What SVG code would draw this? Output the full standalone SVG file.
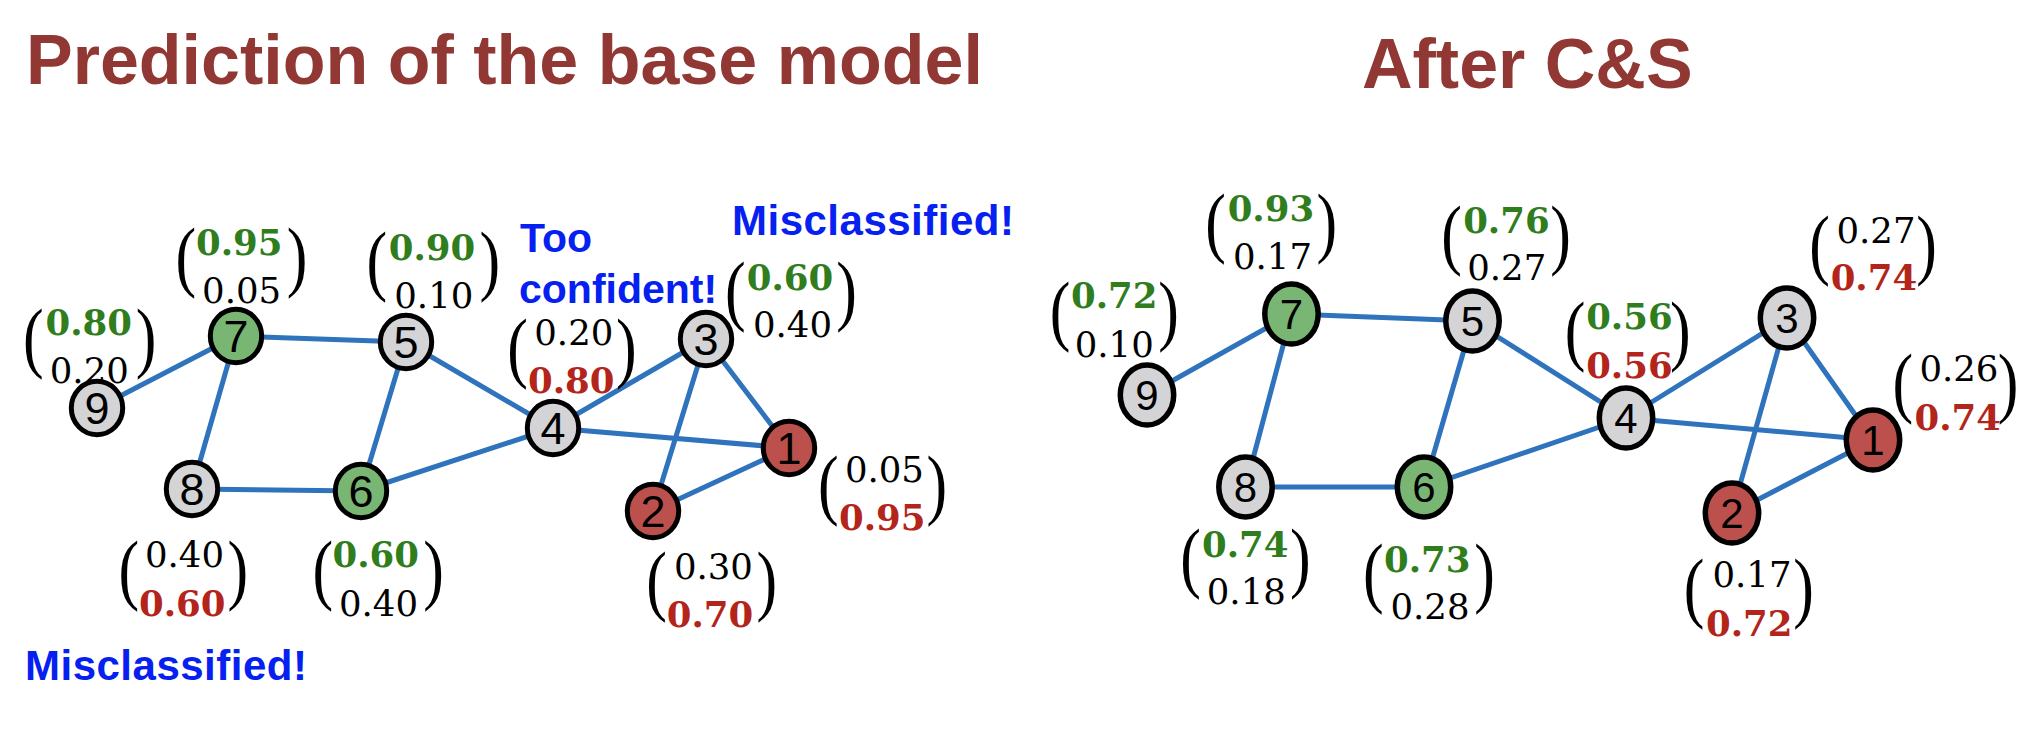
<svg xmlns="http://www.w3.org/2000/svg" width="2044" height="754" viewBox="0 0 2044 754">
<style>
.title{font-family:"Liberation Sans",Arial,sans-serif;font-weight:bold;font-size:70px;fill:#913835}
.note{font-family:"Liberation Sans",Arial,sans-serif;font-weight:bold;font-size:41px;fill:#0520f0}
.mis{font-size:42px;letter-spacing:0.5px}
.edge{stroke:#2f73bd;stroke-width:5;fill:none;stroke-linecap:round}
.nd{stroke:#000;stroke-width:5}
.ndr{stroke:#000;stroke-width:5.5}
.g{fill:#7ab673}.r{fill:#bb504d}.k{fill:#d4d4d7}
.dl{font-family:"Liberation Sans",Arial,sans-serif;font-size:45px;fill:#000;text-anchor:middle}
.dr{font-family:"Liberation Sans",Arial,sans-serif;font-size:42px;fill:#000;text-anchor:middle}
.v{font-family:"DejaVu Serif","Liberation Serif",serif;font-size:35.5px;text-anchor:middle;fill:#000}
.vg{font-family:"DejaVu Serif","Liberation Serif",serif;font-size:35.5px;text-anchor:middle;fill:#2f7d1c;font-weight:bold}
.vr{font-family:"DejaVu Serif","Liberation Serif",serif;font-size:35.5px;text-anchor:middle;fill:#b3241a;font-weight:bold}
.p{font-family:"Liberation Serif","Times New Roman",serif;font-size:40px;fill:#000}
</style>
<g id="titles">
<text class="title" x="26" y="84">Prediction of the base model</text>
<text class="title" x="1362" y="88">After C&amp;S</text>
</g>
<g id="notes">
<text class="note" x="520" y="252">Too</text>
<text class="note" x="519" y="303">confident!</text>
<text class="note mis" x="732" y="235">Misclassified!</text>
<text class="note mis" x="25" y="680">Misclassified!</text>
</g>
<g id="connectors-left">
<line class="edge" x1="97" y1="408" x2="236" y2="336"/>
<line class="edge" x1="236" y1="336" x2="406" y2="342"/>
<line class="edge" x1="236" y1="336" x2="192" y2="489"/>
<line class="edge" x1="192" y1="489" x2="361" y2="491"/>
<line class="edge" x1="361" y1="491" x2="406" y2="342"/>
<line class="edge" x1="406" y1="342" x2="553" y2="428"/>
<line class="edge" x1="361" y1="491" x2="553" y2="428"/>
<line class="edge" x1="553" y1="428" x2="706" y2="339"/>
<line class="edge" x1="553" y1="428" x2="789" y2="448"/>
<line class="edge" x1="706" y1="339" x2="789" y2="448"/>
<line class="edge" x1="706" y1="339" x2="653" y2="511"/>
<line class="edge" x1="653" y1="511" x2="789" y2="448"/>
</g>
<g id="connectors-right">
<line class="edge" x1="1147" y1="395" x2="1291.5" y2="314"/>
<line class="edge" x1="1291.5" y1="314" x2="1472.5" y2="321"/>
<line class="edge" x1="1291.5" y1="314" x2="1245.5" y2="487"/>
<line class="edge" x1="1245.5" y1="487" x2="1424" y2="487"/>
<line class="edge" x1="1424" y1="487" x2="1472.5" y2="321"/>
<line class="edge" x1="1472.5" y1="321" x2="1626" y2="418"/>
<line class="edge" x1="1424" y1="487" x2="1626" y2="418"/>
<line class="edge" x1="1626" y1="418" x2="1787" y2="318"/>
<line class="edge" x1="1626" y1="418" x2="1873" y2="440"/>
<line class="edge" x1="1787" y1="318" x2="1873" y2="440"/>
<line class="edge" x1="1787" y1="318" x2="1732" y2="513"/>
<line class="edge" x1="1732" y1="513" x2="1873" y2="440"/>
</g>
<!-- left graph nodes -->
<g id="L-node1">
<ellipse class="nd r" cx="789" cy="448" rx="25.7" ry="26.7"/>
<text class="dl" x="789" y="464">1</text>
<text class="p" transform="translate(818.0,509.8) scale(1.55,1.964)">(</text>
<text class="p" transform="translate(926.5,509.8) scale(1.55,1.964)">)</text>
<text class="v" x="884.4" y="482">0.05</text>
<text class="vr" x="882.2" y="530">0.95</text>
</g>
<g id="L-node2">
<ellipse class="nd r" cx="653" cy="511" rx="25.7" ry="26.7"/>
<text class="dl" x="653" y="527">2</text>
<text class="p" transform="translate(646.3,605.8) scale(1.55,1.964)">(</text>
<text class="p" transform="translate(756.5,605.8) scale(1.55,1.964)">)</text>
<text class="v" x="713.4" y="579">0.30</text>
<text class="vr" x="710" y="627">0.70</text>
</g>
<g id="L-node3">
<ellipse class="nd k" cx="706" cy="339" rx="25.7" ry="26.7"/>
<text class="dl" x="706" y="355">3</text>
<text class="p" transform="translate(724.9,316.4) scale(1.55,1.964)">(</text>
<text class="p" transform="translate(836.2,316.4) scale(1.55,1.964)">)</text>
<text class="vg" x="790" y="290">0.60</text>
<text class="v" x="792.5" y="337">0.40</text>
</g>
<g id="L-node4">
<ellipse class="nd k" cx="553" cy="428" rx="25.7" ry="26.7"/>
<text class="dl" x="553" y="444">4</text>
<text class="p" transform="translate(507.3,373.1) scale(1.55,1.964)">(</text>
<text class="p" transform="translate(615.9,373.1) scale(1.55,1.964)">)</text>
<text class="v" x="573.8" y="345">0.20</text>
<text class="vr" x="571.3" y="393">0.80</text>
</g>
<g id="L-node5">
<ellipse class="nd k" cx="406" cy="342" rx="25.7" ry="26.7"/>
<text class="dl" x="406" y="358">5</text>
<text class="p" transform="translate(366.6,286.1) scale(1.55,1.964)">(</text>
<text class="p" transform="translate(479.6,286.1) scale(1.55,1.964)">)</text>
<text class="vg" x="432" y="260">0.90</text>
<text class="v" x="433.8" y="308">0.10</text>
</g>
<g id="L-node6">
<ellipse class="nd g" cx="361" cy="491" rx="25.7" ry="26.7"/>
<text class="dl" x="361" y="507">6</text>
<text class="p" transform="translate(312.4,594.8) scale(1.55,1.964)">(</text>
<text class="p" transform="translate(423.2,594.8) scale(1.55,1.964)">)</text>
<text class="vg" x="375.8" y="567">0.60</text>
<text class="v" x="378.5" y="616">0.40</text>
</g>
<g id="L-node7">
<ellipse class="nd g" cx="236" cy="336" rx="25.7" ry="26.7"/>
<text class="dl" x="236" y="352">7</text>
<text class="p" transform="translate(175.6,282.1) scale(1.55,1.964)">(</text>
<text class="p" transform="translate(286.8,282.1) scale(1.55,1.964)">)</text>
<text class="vg" x="239.2" y="255">0.95</text>
<text class="v" x="241.6" y="303">0.05</text>
</g>
<g id="L-node8">
<ellipse class="nd k" cx="192" cy="489" rx="25.7" ry="26.7"/>
<text class="dl" x="192" y="505">8</text>
<text class="p" transform="translate(118.4,594.8) scale(1.55,1.964)">(</text>
<text class="p" transform="translate(227.5,594.8) scale(1.55,1.964)">)</text>
<text class="v" x="184.5" y="567">0.40</text>
<text class="vr" x="182.2" y="616">0.60</text>
</g>
<g id="L-node9">
<ellipse class="nd k" cx="97" cy="408" rx="25.7" ry="26.7"/>
<text class="dl" x="97" y="424">9</text>
<text class="p" transform="translate(23.0,363.1) scale(1.55,1.964)">(</text>
<text class="p" transform="translate(135.7,363.1) scale(1.55,1.964)">)</text>
<text class="vg" x="88.8" y="335">0.80</text>
<text class="v" x="89.3" y="383">0.20</text>
</g>
<!-- right graph nodes -->
<g id="R-node1">
<ellipse class="ndr r" cx="1873" cy="440" rx="26.7" ry="30"/>
<text class="dr" x="1873" y="455">1</text>
<text class="p" transform="translate(1892.6,408.1) scale(1.55,1.964)">(</text>
<text class="p" transform="translate(1997.8,408.1) scale(1.55,1.964)">)</text>
<text class="v" x="1958.9" y="381">0.26</text>
<text class="vr" x="1957.7" y="430">0.74</text>
</g>
<g id="R-node2">
<ellipse class="ndr r" cx="1732" cy="513" rx="26.7" ry="30"/>
<text class="dr" x="1732" y="528">2</text>
<text class="p" transform="translate(1683.7,613.1) scale(1.55,1.964)">(</text>
<text class="p" transform="translate(1793.2,613.1) scale(1.55,1.964)">)</text>
<text class="v" x="1752" y="587">0.17</text>
<text class="vr" x="1749.2" y="636">0.72</text>
</g>
<g id="R-node3">
<ellipse class="ndr k" cx="1787" cy="318" rx="26.7" ry="30"/>
<text class="dr" x="1787" y="333">3</text>
<text class="p" transform="translate(1809.3,269.8) scale(1.55,1.964)">(</text>
<text class="p" transform="translate(1916.2,269.8) scale(1.55,1.964)">)</text>
<text class="v" x="1876" y="243">0.27</text>
<text class="vr" x="1873.9" y="290">0.74</text>
</g>
<g id="R-node4">
<ellipse class="ndr k" cx="1626" cy="418" rx="26.7" ry="30"/>
<text class="dr" x="1626" y="433">4</text>
<text class="p" transform="translate(1564.7,356.4) scale(1.55,1.964)">(</text>
<text class="p" transform="translate(1670.0,356.4) scale(1.55,1.964)">)</text>
<text class="vg" x="1629.4" y="329">0.56</text>
<text class="vr" x="1629.4" y="378">0.56</text>
</g>
<g id="R-node5">
<ellipse class="ndr k" cx="1472.5" cy="321" rx="26.7" ry="30"/>
<text class="dr" x="1472.5" y="336">5</text>
<text class="p" transform="translate(1441.3,259.8) scale(1.55,1.964)">(</text>
<text class="p" transform="translate(1550.2,259.8) scale(1.55,1.964)">)</text>
<text class="vg" x="1506.4" y="233">0.76</text>
<text class="v" x="1506.7" y="280">0.27</text>
</g>
<g id="R-node6">
<ellipse class="ndr g" cx="1424" cy="487" rx="26.7" ry="30"/>
<text class="dr" x="1424" y="502">6</text>
<text class="p" transform="translate(1363.0,598.1) scale(1.55,1.964)">(</text>
<text class="p" transform="translate(1474.2,598.1) scale(1.55,1.964)">)</text>
<text class="vg" x="1427.2" y="572">0.73</text>
<text class="v" x="1430" y="619">0.28</text>
</g>
<g id="R-node7">
<ellipse class="ndr g" cx="1291.5" cy="314" rx="26.7" ry="30"/>
<text class="dr" x="1291.5" y="329">7</text>
<text class="p" transform="translate(1205.3,248.1) scale(1.55,1.964)">(</text>
<text class="p" transform="translate(1316.5,248.1) scale(1.55,1.964)">)</text>
<text class="vg" x="1270.9" y="221">0.93</text>
<text class="v" x="1272.5" y="269">0.17</text>
</g>
<g id="R-node8">
<ellipse class="ndr k" cx="1245.5" cy="487" rx="26.7" ry="30"/>
<text class="dr" x="1245.5" y="502">8</text>
<text class="p" transform="translate(1180.3,583.1) scale(1.55,1.964)">(</text>
<text class="p" transform="translate(1289.9,583.1) scale(1.55,1.964)">)</text>
<text class="vg" x="1245.3" y="557">0.74</text>
<text class="v" x="1246.3" y="604">0.18</text>
</g>
<g id="R-node9">
<ellipse class="ndr k" cx="1147" cy="395" rx="26.7" ry="30"/>
<text class="dr" x="1147" y="410">9</text>
<text class="p" transform="translate(1049.7,336.4) scale(1.55,1.964)">(</text>
<text class="p" transform="translate(1158.2,336.4) scale(1.55,1.964)">)</text>
<text class="vg" x="1114.2" y="308">0.72</text>
<text class="v" x="1114.2" y="357">0.10</text>
</g>
</svg>
